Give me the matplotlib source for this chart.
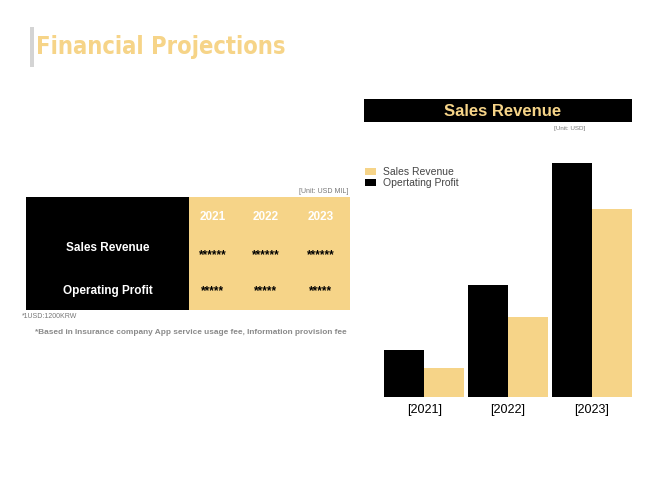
import matplotlib.pyplot as plt
from matplotlib.patches import Rectangle
import numpy as np

# data
years = ['2021', '2022', '2023']
tick_labels = ['[2021]', '[2022]', '[2023]']
row_names = ['Sales Revenue', 'Operating Profit']
sales_stars = ['******', '******', '******']
profit_stars = ['*****', '*****', '*****']
# bar heights (relative)
profit_vals = [47, 112, 234]
sales_vals = [29, 80, 188]

YEL = '#F6D488'
plt.rcParams['font.family'] = ['Liberation Sans', 'DejaVu Sans']

fig = plt.figure(figsize=(6.52, 4.9), dpi=100)

# background axes in pixel coords
bg = fig.add_axes([0, 0, 1, 1])
bg.set_xlim(0, 652)
bg.set_ylim(490, 0)
bg.axis('off')

# title
bg.add_patch(Rectangle((30, 27), 3.5, 40, color='#d4d4d4', lw=0))
bg.text(36, 47, 'Financial Projections', color=YEL, fontsize=17, fontweight='bold',
        family='DejaVu Sans', fontstretch='condensed', va='center', ha='left')

# table
bg.add_patch(Rectangle((26, 197), 163, 113, color='black', lw=0))
bg.add_patch(Rectangle((189, 197), 161, 113, color=YEL, lw=0))
bg.text(348, 191, '[Unit: USD MIL]', fontsize=5, color='#777777', ha='right', va='center')
col_x = [213, 266, 321]
for x, y, s1, s2 in zip(col_x, years, sales_stars, profit_stars):
    bg.text(x, 217, y, color='white', fontsize=8.5, fontweight='bold', ha='center', va='center')
    bg.text(x, 255, s1, color='black', fontsize=8.5, fontweight='bold', ha='center', va='center')
    bg.text(x, 291, s2, color='black', fontsize=8.5, fontweight='bold', ha='center', va='center')
bg.text(108, 248, row_names[0], color='white', fontsize=8.5, fontweight='bold', ha='center', va='center')
bg.text(108, 291, row_names[1], color='white', fontsize=8.5, fontweight='bold', ha='center', va='center')
bg.text(22, 316, '*1USD:1200KRW', fontsize=5, color='#777777', ha='left', va='center')
bg.text(35, 332, '*Based in Insurance company App service usage fee, Information provision fee',
        fontsize=5.95, color='#8a8a8a', fontweight='bold', ha='left', va='center')

# right banner
bg.add_patch(Rectangle((364, 99), 268, 23, color='black', lw=0))
bg.text(503, 111, 'Sales Revenue', color=YEL, fontsize=12, fontweight='bold', ha='center', va='center')
bg.text(570, 128, '[Unit: USD]', fontsize=4.5, color='#777777', ha='center', va='center')

# bar chart
ax = fig.add_axes([384 / 652, (490 - 397) / 490, 248 / 652, (397 - 163) / 490])
x = np.arange(len(years))
w = 0.48
ax.bar(x - w / 2, profit_vals, w, color='black', label='Opertating Profit')
ax.bar(x + w / 2, sales_vals, w, color=YEL, label='Sales Revenue')
ax.set_xlim(-0.48, 2.48)
ax.set_ylim(0, max(profit_vals))
ax.set_xticks(x)
ax.set_xticklabels(tick_labels, fontsize=9)
ax.tick_params(axis='x', length=0, pad=5)
ax.set_yticks([])
for s in ax.spines.values():
    s.set_visible(False)
ax.patch.set_alpha(0)

h, l = ax.get_legend_handles_labels()
fig.legend(h[::-1], l[::-1], loc='upper left', bbox_to_anchor=(361 / 652, 1 - 163 / 490),
           frameon=False, fontsize=7.5, handlelength=1.0, handleheight=0.6,
           labelspacing=0.1, handletextpad=0.7, borderaxespad=0, labelcolor='#444444')

fig.savefig('out.png', dpi=100)
